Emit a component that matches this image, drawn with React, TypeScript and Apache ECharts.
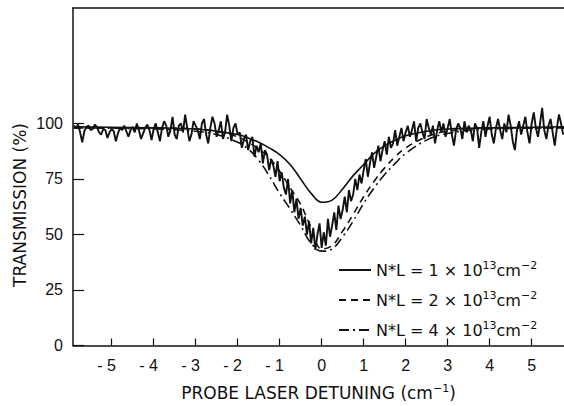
import React, { useEffect, useRef } from "react";
import * as echarts from "echarts";

const xTicks = [-5, -4, -3, -2, -1, 0, 1, 2, 3, 4, 5];
const yTicks = [0, 25, 50, 75, 100];

// Measured trace: sampled from x = -5.9 in steps of 0.05 cm^-1
const traceStart = -5.9;
const traceStep = 0.05;
const traceValues = [
  // -5.90 .. -4.00
  99, 98, 99.5, 96, 91.5, 96.5, 98.5, 99, 97, 97.5, 99.5, 98.5, 96, 95, 97.5, 97, 93.5, 96, 97.5, 96.5,
  92, 95.5, 98, 97, 99, 96.5, 94, 97, 98.5, 96, 100, 97, 93, 95.5, 98, 99.5, 97, 92.5, 97.5,
  // -3.95 .. -2.00
  100, 96, 92, 98, 101, 99, 94, 97, 103, 95, 93, 99, 100, 96, 104, 98, 92, 95, 101, 99,
  97, 93, 100, 102, 95, 91, 98, 103, 100, 94, 97, 101, 93, 96, 104, 99, 92, 98, 100, 95,
  // -1.95 .. -1.00
  96, 89, 93, 95, 88, 92, 94, 85, 90, 87, 91, 82, 88, 86, 79, 84, 81, 76, 83, 74,
  // -0.95 .. 0.00
  78, 71, 68, 75, 64, 70, 60, 66, 57, 62, 54, 58, 50, 56, 46, 53, 43, 50, 55, 44,
  // 0.05 .. 1.00
  51, 45, 57, 49, 54, 60, 52, 63, 57, 61, 67, 60, 70, 65, 68, 75, 70, 77, 73, 79,
  // 1.05 .. 2.00
  84, 76, 82, 87, 80, 85, 90, 83, 88, 92, 86, 94, 89, 91, 97, 90, 94, 98, 92, 96,
  // 2.05 .. 3.50
  99, 94, 97, 101, 92, 98, 100, 96, 93, 102, 98, 95, 99, 91, 97, 101, 96, 100, 94, 98,
  102, 95, 90, 97, 100, 98, 93, 101, 96, 99,
  // 3.55 .. 5.75
  97, 92, 100, 98, 89, 96, 101, 94, 99, 103, 95, 91, 98, 102, 97, 93, 100, 96, 104, 99,
  92, 88, 97, 101, 95, 99, 103, 96, 91, 100, 105, 98, 94, 100, 107, 97, 93, 99, 102, 96,
  90, 98, 104, 100, 95,
];

// Model curves
const modelX = [-5.9, -4, -3, -2.5, -2, -1.75, -1.5, -1.25, -1, -0.75, -0.5, -0.25, 0, 0.25, 0.5, 0.75, 1, 1.25, 1.5, 1.75, 2, 2.5, 3, 4, 5.8];
const nl1 = [98.5, 98, 97.5, 96.5, 95, 93.5, 91.5, 89, 86, 81.5, 75, 68.5, 64.5, 65.5, 70.5, 76.5, 81.5, 86.5, 90, 92.5, 94.5, 96.5, 97.5, 98, 98.5];
const nl2 = [98, 98, 97.5, 96.5, 94, 91.5, 88.5, 84.5, 78.5, 71, 63.5, 53, 43.5, 45, 51.5, 59, 67, 74, 80, 85, 89, 94, 96.5, 98, 98];
const nl4 = [98, 97.5, 96.5, 95, 91.5, 88.5, 83.5, 76.5, 68.5, 61.5, 54, 46, 42.5, 43.5, 49, 56, 64, 71, 77, 82, 86.5, 92.5, 95.5, 97.5, 98];

const seriesNames = ["NL1", "NL2", "NL4"];
const legendExps = ["1", "2", "4"];

const FONT = "DejaVu Sans";
const NUMFONT = "Liberation Sans";
const INK = "#111";

function pairs(xs: number[], ys: number[]) {
  return xs.map((x, i) => [x, ys[i]]);
}

export default function App() {
  const ref = useRef<HTMLDivElement>(null);
  useEffect(() => {
    if (!ref.current) return;
    const chart = echarts.init(ref.current, null, { renderer: "svg" });
    const trace = traceValues.map((v, i) => [+(traceStart + i * traceStep).toFixed(2), v]);
    const txtStyle = { fontSize: 16, fontFamily: FONT, color: INK };
    const supStyle = { fontSize: 11, fontFamily: FONT, color: INK, padding: [0, 0, 9, 0] };
    chart.setOption({
      animation: false,
      backgroundColor: "#fff",
      grid: { left: 73, right: 0, top: 8, bottom: 56 },
      legend: {
        data: seriesNames,
        orient: "vertical",
        left: 333,
        top: 255,
        itemWidth: 32,
        itemHeight: 14,
        itemGap: 12,
        itemStyle: { opacity: 0 },
        formatter: (name: string) => {
          const k = legendExps[seriesNames.indexOf(name)];
          return `{t|N*L = ${k} × 10}{s|13}{t|cm}{s|−2}`;
        },
        textStyle: { ...txtStyle, rich: { t: txtStyle, s: supStyle } },
      },
      graphic: [
        {
          type: "text",
          x: 20,
          y: 205,
          rotation: Math.PI / 2,
          style: {
            text: "TRANSMISSION (%)",
            fontSize: 17,
            fontFamily: FONT,
            fill: INK,
            align: "center",
            verticalAlign: "middle",
          },
        },
      ],
      xAxis: [
        {
          type: "value",
          min: -5.92,
          max: 5.77,
          splitLine: { show: false },
          axisLine: { onZero: false, lineStyle: { color: INK, width: 1.5 } },
          axisTick: { inside: true, length: 7, lineStyle: { color: INK, width: 1.2 }, customValues: xTicks },
          axisLabel: {
            customValues: xTicks,
            margin: 12,
            color: INK,
            fontFamily: NUMFONT,
            fontSize: 16,
            formatter: (v: number) => (v < 0 ? "{n|- " + Math.abs(v) + "}" : "{p|" + v + "}"),
            rich: {
              n: { fontFamily: NUMFONT, fontSize: 16, color: INK, padding: [0, 10, 0, 0] },
              p: { fontFamily: NUMFONT, fontSize: 16, color: INK },
            },
          },
          name: "{t|PROBE LASER DETUNING (cm}{s|−1}{t|)}",
          nameLocation: "middle",
          nameGap: 37,
          nameTextStyle: {
            rich: {
              t: { fontSize: 17, fontFamily: FONT, color: INK },
              s: { fontSize: 11, fontFamily: FONT, color: INK, padding: [0, 0, 9, 0] },
            },
          },
        },
        {
          type: "value",
          position: "top",
          min: -5.92,
          max: 5.77,
          splitLine: { show: false },
          axisLine: { show: true, onZero: false, lineStyle: { color: INK, width: 1.5 } },
          axisTick: { show: false },
          axisLabel: { show: false },
        },
      ],
      yAxis: {
        type: "value",
        min: 0,
        max: 152,
        splitLine: { show: false },
        axisLine: { show: true, onZero: false, lineStyle: { color: INK, width: 1.5 } },
        axisTick: { inside: true, length: 11, lineStyle: { color: INK, width: 1.2 }, customValues: yTicks },
        axisLabel: { customValues: yTicks, margin: 10, color: INK, fontFamily: NUMFONT, fontSize: 16 },
      },
      series: [
        {
          name: "trace",
          type: "line",
          data: trace,
          showSymbol: false,
          symbol: "none",
          lineStyle: { color: INK, width: 1.9 },
          z: 3,
        },
        {
          name: "NL1",
          type: "line",
          data: pairs(modelX, nl1),
          smooth: 0.4,
          symbol: "none",
          lineStyle: { color: INK, width: 1.6, type: "solid" },
          itemStyle: { color: INK },
        },
        {
          name: "NL2",
          type: "line",
          data: pairs(modelX, nl2),
          smooth: 0.4,
          symbol: "none",
          lineStyle: { color: INK, width: 1.6, type: [7, 5] },
          itemStyle: { color: INK },
        },
        {
          name: "NL4",
          type: "line",
          data: pairs(modelX, nl4),
          smooth: 0.4,
          symbol: "none",
          lineStyle: { color: INK, width: 1.6, type: [10, 4, 2, 4] },
          itemStyle: { color: INK },
        },
      ],
    });
    return () => chart.dispose();
  }, []);
  return <div ref={ref} style={{ width: 564, height: 406, position: "absolute", left: 0, top: 0 }} />;
}
